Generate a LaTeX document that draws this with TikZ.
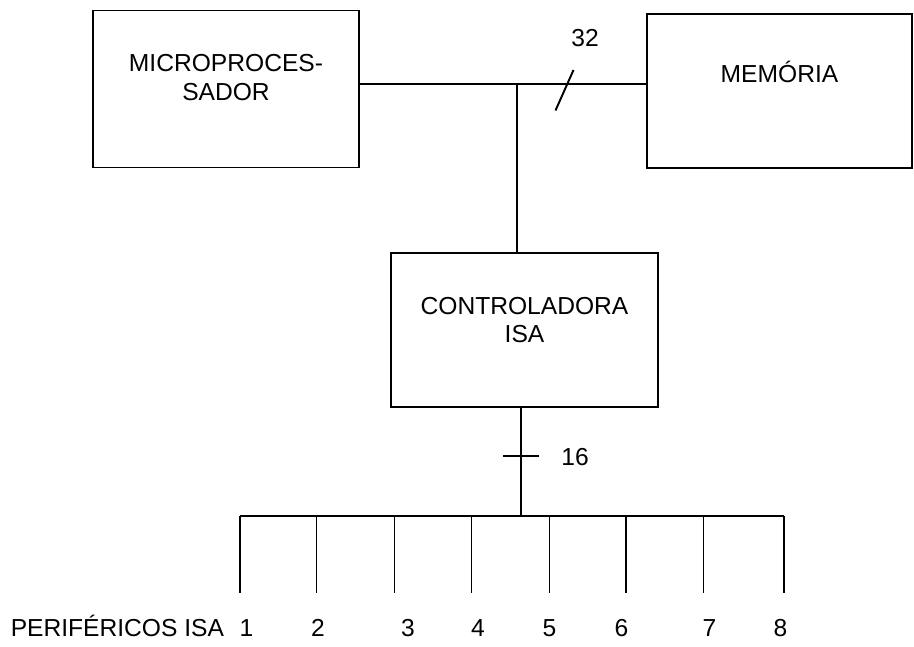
\documentclass[tikz,border=0pt]{standalone}
\usepackage{fontspec}
\setmainfont{Liberation Sans}
\tikzset{box/.style={draw=black,line width=1.1pt,minimum width=5.33cm,minimum height=3.1cm,inner sep=0pt},
  txt/.style={inner sep=0pt,align=center,font=\fontsize{14}{16.2}\selectfont}}

\begin{document}
\begin{tikzpicture}[line width=1.1pt]
\useasboundingbox (0,0) rectangle (18.28,12.92);
\node[box,minimum height=3.14cm] (CPU) at (4.52,11.14) {};
\node[box,minimum width=5.3cm,minimum height=3.08cm] (MEM) at (15.59,11.1) {};
\node[box,minimum width=5.34cm,minimum height=3.08cm] (ISA) at (10.49,6.32) {};
\node[txt] (CPUtxt) at (4.52,11.37) {MICROPROCES-\\SADOR};
\node[txt,anchor=base] (MEMtxt) at (15.59,11.28) {MEMÓRIA};
\node[txt] (ISAtxt) at (10.49,6.52) {CONTROLADORA\\ISA};

% barramento de 32 bits
\coordinate (J) at (10.34,11.24);
\draw (CPU.east |- J) -- (J) -- (MEM.west |- J);
\draw (J) -- (J |- ISA.north);
\coordinate (S1) at (11.11,10.71);
\coordinate (S2) at (11.47,11.52);
\draw (S1) -- (S2);
\node[txt,anchor=base] (N32) at (11.7,11.99) {32};

% barramento ISA de 16 bits
\coordinate (B) at (10.42,2.6);
\draw (B |- ISA.south) -- (B);
\coordinate (T1) at (10.06,3.8);
\coordinate (T2) at (10.78,3.8);
\draw (T1) -- (T2);
\node[txt,anchor=base] (N16) at (11.5,3.62) {16};

\coordinate (P1) at (4.8,2.6);
\coordinate (P2) at (6.33,2.6);
\coordinate (P3) at (7.89,2.6);
\coordinate (P4) at (9.43,2.6);
\coordinate (P5) at (10.99,2.6);
\coordinate (P6) at (12.52,2.6);
\coordinate (P7) at (14.07,2.6);
\coordinate (P8) at (15.68,2.6);
\coordinate (low) at (0,1.06);
\draw (P1) -- (P8);
\draw (P1) -- (P1 |- low);
\draw (P2) -- (P2 |- low);
\draw (P3) -- (P3 |- low);
\draw (P4) -- (P4 |- low);
\draw (P5) -- (P5 |- low);
\draw (P6) -- (P6 |- low);
\draw (P7) -- (P7 |- low);
\draw (P8) -- (P8 |- low);

\node[txt,anchor=base east] (PER) at (4.5,0.19) {PERIFÉRICOS ISA};
\node[txt,anchor=base] (L1) at (4.93,0.19) {1};
\node[txt,anchor=base] (L2) at (6.36,0.19) {2};
\node[txt,anchor=base] (L3) at (8.16,0.19) {3};
\node[txt,anchor=base] (L4) at (9.56,0.19) {4};
\node[txt,anchor=base] (L5) at (10.99,0.19) {5};
\node[txt,anchor=base] (L6) at (12.43,0.19) {6};
\node[txt,anchor=base] (L7) at (14.19,0.19) {7};
\node[txt,anchor=base] (L8) at (15.61,0.19) {8};
\end{tikzpicture}
\end{document}
